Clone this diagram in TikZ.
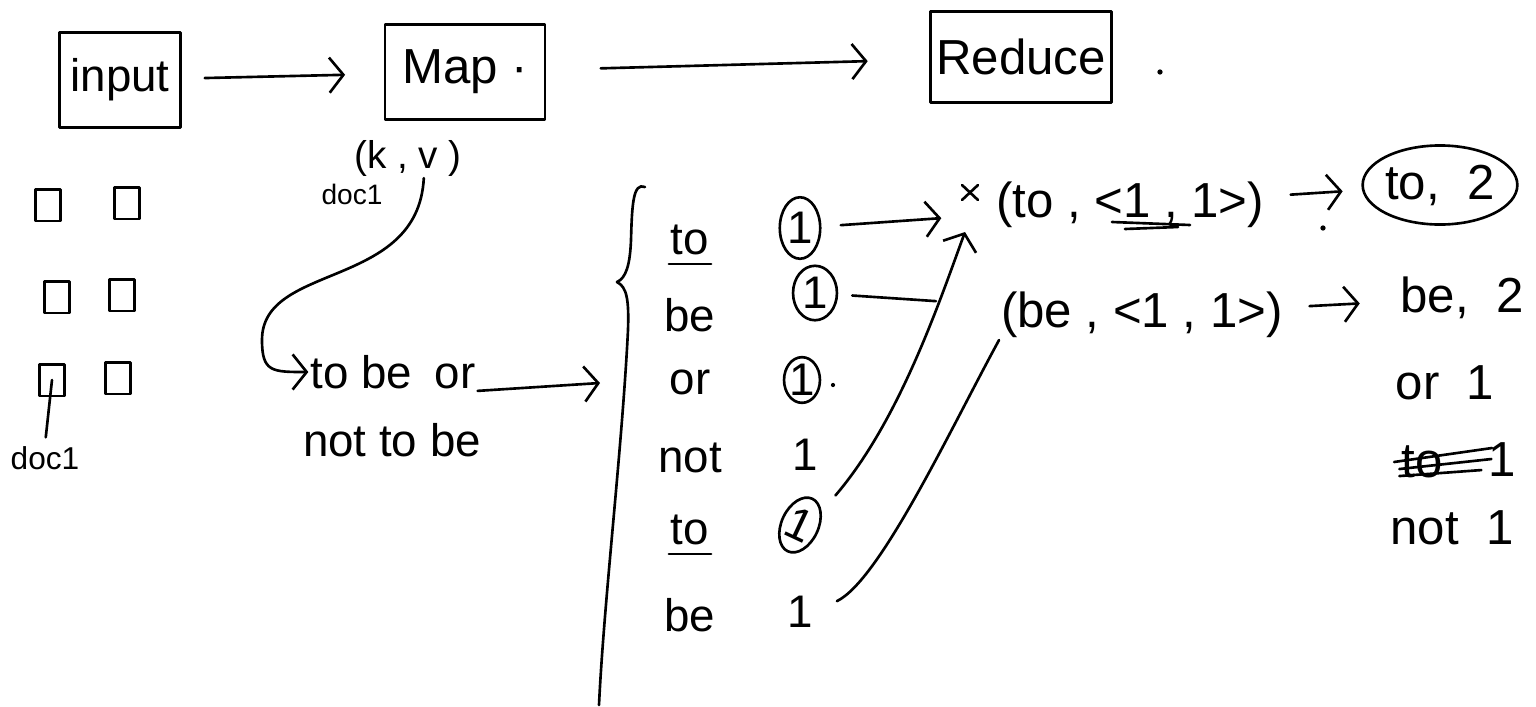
\documentclass[tikz,border=0pt]{standalone}
\usepackage{fontspec}
\setmainfont{Liberation Sans}
\usetikzlibrary{arrows.meta,positioning,shapes.geometric}
\tikzset{
    pen/.style = {line width=1.5pt, line cap=round, line join=round},
    sketch-box/.style = {draw, pen, rectangle, inner sep=0pt},
    doc-page/.style = {draw, pen, rectangle, minimum width=14pt, minimum height=18pt, inner sep=0pt},
    ring/.style = {draw, pen, ellipse, inner sep=0pt},
    hand/.style = {font=\fontsize{26}{30}\selectfont, inner sep=1pt},
    hand-big/.style = {font=\fontsize{28}{32}\selectfont, inner sep=1pt},
    hand-small/.style = {font=\fontsize{18}{22}\selectfont, inner sep=1pt},
    flow/.style = {pen, -{Straight Barb[length=8pt, width=20pt]}},
}

\begin{document}
\begin{tikzpicture}[x=0.02cm, y=-0.02cm]
\useasboundingbox (0,0) rectangle (1536,707);

\node[sketch-box, hand, minimum width=69pt, minimum height=54pt] (inp) at (120,80) {input};
\node[sketch-box, hand-big, minimum width=91pt, minimum height=54pt] (map) at (465,72) {Map ·};
\node[sketch-box, hand-big, minimum width=103pt, minimum height=52pt] (red) at (1021,57) {Reduce};
\draw[flow, shorten <=13pt, shorten >=22pt] (inp) -- (map);
\draw[flow, shorten <=31pt, shorten >=35pt] (map) -- (red);

\foreach \name/\x/\y in {pg1/48/205, pg2/127/203, pg3/57/297, pg4/122/295, pg5/52/380, pg6/118/378}
    \node[doc-page] (\name) at (\x,\y) {};
\node[hand-small] (doc) at (45,458) {doc1};
\draw[pen, shorten <=4pt] (doc.north) -- (pg5.center);

\node[hand-small, font=\fontsize{22}{26}\selectfont] (kv) at (408,158) {(k , v )};
\node[hand-small, font=\fontsize{16}{20}\selectfont] (src) at (352,194) {doc1};
\node[hand] (s1) at (393,372) {to be\enspace or};
\node[hand] (s2) at (392,440) {not to be};
\draw[flow] ([xshift=9pt]kv.south) .. controls (418,290) and (262,262) .. (262,340) .. controls (262,372) and (272,372) .. (s1.west);
\coordinate (fan) at (600,383);
\draw[flow] (s1.south east) -- (fan);

\draw[pen] (645,187) .. controls (633,182) and (632,205) .. (631,240) .. controls (630,265) and (626,278) .. (617,282) .. controls (627,287) and (629,300) .. (628,330) .. controls (622,450) and (604,600) .. (599,705);

\foreach \name/\y/\w in {w1/240/to, w2/315/be, w3/382/or, w4/458/not, w5/530/to, w6/615/be}
    \node[hand] (\name) at (690,\y) {\w};
\draw[pen] ([yshift=-4pt]w1.south west) -- ([yshift=-4pt]w1.south east);
\draw[pen] ([yshift=-4pt]w5.south west) -- ([yshift=-4pt]w5.south east);

\node[hand, ring, minimum width=23pt, minimum height=35pt] (n1) at (800,228) {1};
\node[hand, ring, minimum width=25pt, minimum height=31pt] (n2) at (815,293) {1};
\node[hand, ring, minimum width=20pt, minimum height=26pt] (n3) at (802,380) {1};
\node[hand] (n4) at (805,455) {1};
\node[hand, ring, minimum width=21pt, minimum height=33pt, rotate=-25] (n5) at (800,525) {1};
\node[hand] (n6) at (800,612) {1};
\fill (833,385) circle (1.2pt);

\node[hand-big] (k1) at (1130,205) {(to , <1 , 1>)};
\node[hand-big] (k2) at (1142,315) {(be , <1 , 1>)};
\draw[pen] (962,185) -- (978,200) (962,200) -- (978,185);
\draw[pen] (1112,222) -- (1190,225) (1125,229) -- (1178,227);
\coordinate (join) at (965,232);
\draw[flow, shorten <=11pt, shorten >=30pt] (n1) -- (k1);
\draw[pen, shorten <=8pt, shorten >=36pt] (n2) -- (k2);
\draw[flow, shorten <=12pt] (n5.north east) .. controls (900,420) and (940,300) .. (join);
\draw[pen, shorten <=14pt] (n6.east) .. controls (880,580) and (950,430) .. (k2.south west);

\node[hand-big, ring, minimum width=85pt, minimum height=45pt] (r1) at (1440,185) {to, \ 2};
\node[hand-big] (r2) at (1462,298) {be,\ \ 2};
\draw[flow, shorten <=14pt, shorten >=11pt] (k1) -- (r1);
\draw[flow, shorten <=14pt, shorten >=22pt] (k2) -- (r2);
\node[hand-big] (r3) at (1445,383) {or\ \ 1};
\node[hand-big] (r4) at (1422,462) {to};
\node[hand-big] (r4n) at (1502,460) {1};
\draw[pen] ([xshift=-3pt]r4.west) -- ++(98,-14);
\draw[pen] ([yshift=-4pt]r4.west) -- ++(92,-10);
\draw[pen] ([yshift=-8pt]r4.west) -- ++(82,-6);
\node[hand-big] (r5) at (1452,528) {not\ \ 1};
\fill (1160,72) circle (1.5pt);
\fill (1323,228) circle (1.5pt);
\end{tikzpicture}
\end{document}
